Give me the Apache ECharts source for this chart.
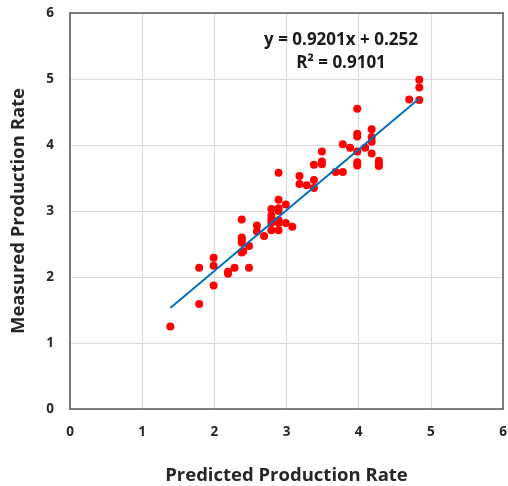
<!DOCTYPE html>
<html>
<head>
<meta charset="utf-8">
<script src="https://cdn.jsdelivr.net/npm/echarts@6/dist/echarts.min.js"></script>
<style>
html,body{margin:0;padding:0;background:#fff;}
#chart{width:508px;height:486px;}
</style>
</head>
<body>
<div id="chart"></div>
<script>
var predicted = [1.39,1.79,1.79,1.99,1.99,1.99,2.19,2.19,2.28,2.48,2.38,2.40,2.48,2.38,2.38,2.38,2.38,2.59,2.59,2.69,2.79,2.79,2.79,2.79,2.79,2.89,2.89,2.89,2.89,2.89,2.89,2.89,2.99,2.99,3.08,3.18,3.18,3.28,3.38,3.38,3.38,3.49,3.49,3.49,3.68,3.78,3.78,3.88,3.98,3.98,3.98,3.98,3.98,3.98,4.09,4.18,4.18,4.18,4.18,4.28,4.28,4.28,4.70,4.84,4.84,4.84];
var measured  = [1.25,1.59,2.14,1.87,2.17,2.29,2.05,2.08,2.14,2.14,2.37,2.39,2.47,2.56,2.60,2.52,2.87,2.78,2.69,2.62,3.03,2.93,2.87,2.82,2.71,3.58,3.17,3.04,3.00,2.86,2.82,2.71,3.10,2.82,2.76,3.53,3.41,3.39,3.70,3.47,3.35,3.90,3.75,3.71,3.59,3.59,4.01,3.96,4.55,4.17,4.13,3.90,3.74,3.69,3.96,4.24,4.12,4.05,3.87,3.76,3.72,3.68,4.69,4.99,4.87,4.68];
var slope = 0.9201, intercept = 0.252, r2 = 0.9101;
var xTicks = [0,1,2,3,4,5,6];
var yTicks = [0,1,2,3,4,5,6];

var pts = predicted.map(function(x,i){return [x, measured[i]];});
var xMin = Math.min.apply(null, predicted), xMax = Math.max.apply(null, predicted);
var trend = [[xMin, slope*xMin+intercept],[xMax, slope*xMax+intercept]];

var chart = echarts.init(document.getElementById('chart'));
var fontFam = '"Open Sans", "Liberation Sans", sans-serif';
var frameAxis = function(pos, isX){
  return {
    type:'value', position:pos, min:(isX?xTicks:yTicks)[0], max:(isX?xTicks:yTicks)[6], interval:1,
    axisLine:{show:true, onZero:false, lineStyle:{color:'#595959', width:1.5}},
    axisTick:{show:false}, axisLabel:{show:false}, splitLine:{show:false}
  };
};
chart.setOption({
  animation:false,
  backgroundColor:'#fff',
  grid:{left:70, top:13, right:5, bottom:77, containLabel:false, outerBoundsMode:'none'},
  xAxis:[{
    type:'value', min:xTicks[0], max:xTicks[xTicks.length-1], interval:1, position:'bottom',
    name:'Predicted Production Rate', nameLocation:'middle', nameGap:57,
    nameTextStyle:{fontFamily:fontFam, fontWeight:'bold', fontSize:18.5, color:'#262626'},
    axisLine:{show:true, onZero:false, lineStyle:{color:'#595959', width:1.5}}, axisTick:{show:false},
    axisLabel:{fontFamily:fontFam, fontWeight:'bold', fontSize:13.5, color:'#262626', margin:16},
    splitLine:{lineStyle:{color:'#d9d9d9', width:1.2}}
  }, frameAxis('top', true)],
  yAxis:[{
    type:'value', min:yTicks[0], max:yTicks[yTicks.length-1], interval:1, position:'left',
    name:'Measured Production Rate', nameLocation:'middle', nameGap:42,
    nameTextStyle:{fontFamily:fontFam, fontWeight:'bold', fontSize:18.5, color:'#262626'},
    axisLine:{show:true, onZero:false, lineStyle:{color:'#595959', width:1.5}}, axisTick:{show:false},
    axisLabel:{fontFamily:fontFam, fontWeight:'bold', fontSize:13.5, color:'#262626', margin:16},
    splitLine:{lineStyle:{color:'#d9d9d9', width:1.2}}
  }, frameAxis('right', false)],
  graphic:[
    {type:'text', z:10,
     style:{text:'y = ' + slope + 'x + ' + intercept, x:341, y:40, textAlign:'center', textVerticalAlign:'middle',
            font:'bold 17px "Open Sans", sans-serif', fill:'#1a1a1a'}},
    {type:'text', z:10,
     style:{text:'R\u00B2 = ' + r2, x:341, y:63, textAlign:'center', textVerticalAlign:'middle',
            font:'bold 17px "Open Sans", sans-serif', fill:'#1a1a1a'}}
  ],
  series:[
    {type:'scatter', data:pts, symbol:'circle', symbolSize:8, itemStyle:{color:'#ff0000', opacity:1}, z:2},
    {type:'line', data:trend, symbol:'none', lineStyle:{color:'#0070c0', width:2}, z:3}
  ]
});
</script>
</body>
</html>
